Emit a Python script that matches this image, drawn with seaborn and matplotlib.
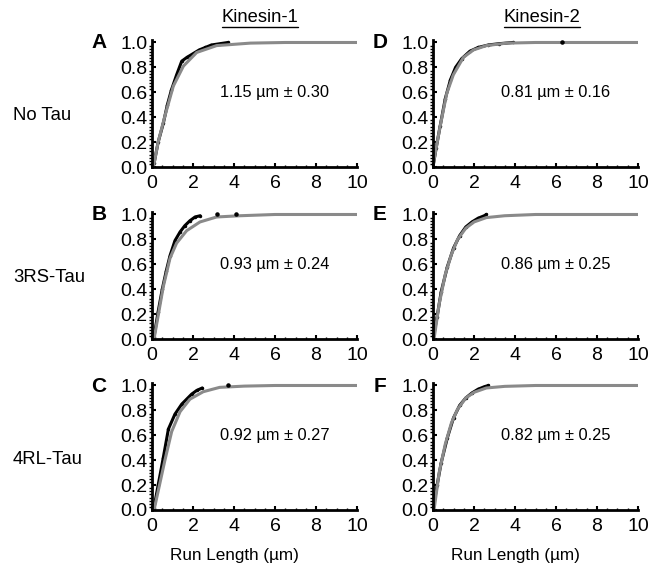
import numpy as np
import pandas as pd
import matplotlib
matplotlib.use("Agg")
import matplotlib.pyplot as plt
import seaborn as sns
from matplotlib.lines import Line2D
from matplotlib.ticker import MultipleLocator

# panel letters, row / column labels and fit annotations
letters = ["A", "B", "C", "D", "E", "F"]
row_labels = ["No Tau", "3RS-Tau", "4RL-Tau"]
col_labels = ["Kinesin-1", "Kinesin-2"]
notes = ["1.15 µm ± 0.30", "0.93 µm ± 0.24", "0.92 µm ± 0.27",
         "0.81 µm ± 0.16", "0.86 µm ± 0.25", "0.82 µm ± 0.25"]

data_x = {
    "A": [0, 0.1, 0.3, 0.55, 0.75, 0.95, 1.2, 1.45, 1.7, 2.0, 2.3, 2.6, 2.9, 3.3, 3.7],
    "B": [0, 0.1, 0.3, 0.5, 0.7, 0.88, 1.12, 1.37, 1.6, 1.85, 2.1, 2.35],
    "C": [0, 0.1, 0.3, 0.55, 0.8, 1.12, 1.45, 1.69, 1.93, 2.18, 2.45],
    "D": [0, 0.15, 0.35, 0.6, 0.85, 1.1, 1.4, 1.8, 2.2, 2.7, 3.2, 3.9],
    "E": [0, 0.2, 0.4, 0.7, 1.0, 1.3, 1.6, 1.9, 2.2, 2.5, 2.6],
    "F": [0, 0.2, 0.4, 0.7, 1.0, 1.3, 1.6, 1.9, 2.2, 2.5, 2.7],
}
data_y = {
    "A": [0, 0.03, 0.2, 0.35, 0.5, 0.62, 0.74, 0.85, 0.88, 0.91, 0.94, 0.96, 0.98, 0.99, 1.0],
    "B": [0, 0.02, 0.22, 0.4, 0.55, 0.67, 0.79, 0.86, 0.91, 0.95, 0.98, 0.99],
    "C": [0, 0.02, 0.2, 0.42, 0.65, 0.77, 0.85, 0.89, 0.93, 0.96, 0.98],
    "D": [0, 0.15, 0.33, 0.55, 0.7, 0.8, 0.87, 0.93, 0.96, 0.98, 0.99, 1.0],
    "E": [0, 0.18, 0.38, 0.58, 0.73, 0.83, 0.9, 0.94, 0.97, 0.99, 1.0],
    "F": [0, 0.2, 0.38, 0.58, 0.74, 0.84, 0.9, 0.94, 0.97, 0.99, 1.0],
}
# stray long runs at the top
stray_x = {"A": [], "B": [3.15, 4.1], "C": [3.7], "D": [6.3], "E": [], "F": []}

# fitted curve (gray)
fit_x = {
    "A": [0.07, 0.3, 0.63, 1.04, 1.53, 2.18, 3.15, 4.8, 6.5, 10],
    "B": [0.1, 0.55, 0.88, 1.2, 1.69, 2.34, 3.15, 4.3, 6.0, 10],
    "C": [0.1, 0.63, 0.96, 1.37, 1.85, 2.5, 3.3, 4.5, 6.0, 10],
    "D": [0.0, 0.34, 0.67, 0.99, 1.48, 1.97, 2.6, 3.6, 5.0, 10],
    "E": [0.05, 0.3, 0.6, 0.9, 1.2, 1.6, 2.0, 2.6, 3.5, 5.0, 10],
    "F": [0.05, 0.3, 0.6, 0.9, 1.2, 1.6, 2.0, 2.6, 3.5, 5.0, 10],
}
fit_y = {
    "A": [0, 0.2, 0.41, 0.65, 0.81, 0.92, 0.975, 0.995, 1.0, 1.0],
    "B": [0, 0.42, 0.65, 0.77, 0.87, 0.94, 0.98, 0.99, 1.0, 1.0],
    "C": [0, 0.4, 0.63, 0.79, 0.89, 0.95, 0.985, 0.995, 1.0, 1.0],
    "D": [0.01, 0.32, 0.59, 0.74, 0.88, 0.94, 0.975, 0.995, 1.0, 1.0],
    "E": [0, 0.28, 0.52, 0.68, 0.8, 0.89, 0.94, 0.975, 0.99, 1.0, 1.0],
    "F": [0, 0.3, 0.53, 0.7, 0.81, 0.9, 0.945, 0.98, 0.993, 1.0, 1.0],
}

sns.set_theme(style="ticks")
plt.rcParams["font.family"] = ["Liberation Sans", "DejaVu Sans"]
plt.rcParams["text.color"] = "black"
plt.rcParams["axes.labelcolor"] = "black"
plt.rcParams["xtick.color"] = "black"
plt.rcParams["ytick.color"] = "black"

W, H = 661, 566
fig = plt.figure(figsize=(W / 100, H / 100), dpi=100)

lefts = [152, 433]
bottoms = [167, 339, 510]
ax_w = 205
ax_h = 127

for c in range(2):
    for r in range(3):
        key = letters[c * 3 + r]
        ax = fig.add_axes([lefts[c] / W, 1 - bottoms[r] / H, ax_w / W, ax_h / H])
        df = pd.DataFrame({"x": data_x[key], "y": data_y[key]})
        fit = pd.DataFrame({"x": fit_x[key], "y": fit_y[key]})
        sns.lineplot(data=df, x="x", y="y", ax=ax, color="black", linewidth=2.2,
                     marker="o", markersize=2.5, markeredgewidth=0)
        if stray_x[key]:
            ax.scatter(stray_x[key], [1.0] * len(stray_x[key]), s=5, color="black", zorder=3)
        sns.lineplot(data=fit, x="x", y="y", ax=ax, color="#8a8a8a", linewidth=2.2)
        ax.set_xlim(0, 10)
        ax.set_ylim(0, 1.02)
        ax.set_xticks(range(0, 11, 2))
        ax.set_yticks(np.arange(0, 1.01, 0.2))
        ax.set_yticklabels([f"{v:.1f}" for v in np.arange(0, 1.01, 0.2)])
        ax.xaxis.set_minor_locator(MultipleLocator(0.5))
        ax.yaxis.set_minor_locator(MultipleLocator(0.025))
        ax.set_ylabel("")
        if r == 2:
            ax.set_xlabel("Run Length (µm)", fontsize=12.3, labelpad=7)
            ax.xaxis.set_label_coords(0.4, -0.3)
        else:
            ax.set_xlabel("")
        sns.despine(ax=ax)
        for s in ["left", "bottom"]:
            ax.spines[s].set_linewidth(2)
            ax.spines[s].set_color("black")
        ax.tick_params(axis="both", which="major", direction="in", length=3, width=1.5,
                       labelsize=14)
        ax.tick_params(axis="x", which="major", pad=6)
        ax.tick_params(axis="y", which="major", pad=3)
        ax.tick_params(axis="x", which="minor", direction="in", length=1.5, width=1)
        ax.tick_params(axis="y", which="minor", direction="out", length=2, width=1)
        ax.text(3.3, 0.6, notes[c * 3 + r], fontsize=11.8, ha="left", va="center")
        fig.text((lefts[c] - 53) / W, 1 - (bottoms[r] - 124) / H, key,
                 fontsize=15, fontweight="bold", ha="center", va="center")

row_y = [115, 278, 459]
for r in range(3):
    fig.text(13 / W, 1 - row_y[r] / H, row_labels[r], fontsize=13.3, ha="left", va="center")

fig.canvas.draw()
renderer = fig.canvas.get_renderer()
col_x = [260, 542]
for c in range(2):
    t = fig.text(col_x[c] / W, 1 - 18 / H, col_labels[c], fontsize=13.2, ha="center", va="center")
    bb = t.get_window_extent(renderer).transformed(fig.transFigure.inverted())
    fig.add_artist(Line2D([bb.x0, bb.x1], [bb.y0 - 0.001, bb.y0 - 0.001],
                          transform=fig.transFigure, color="black", linewidth=1))

fig.savefig("out.png", dpi=100)
